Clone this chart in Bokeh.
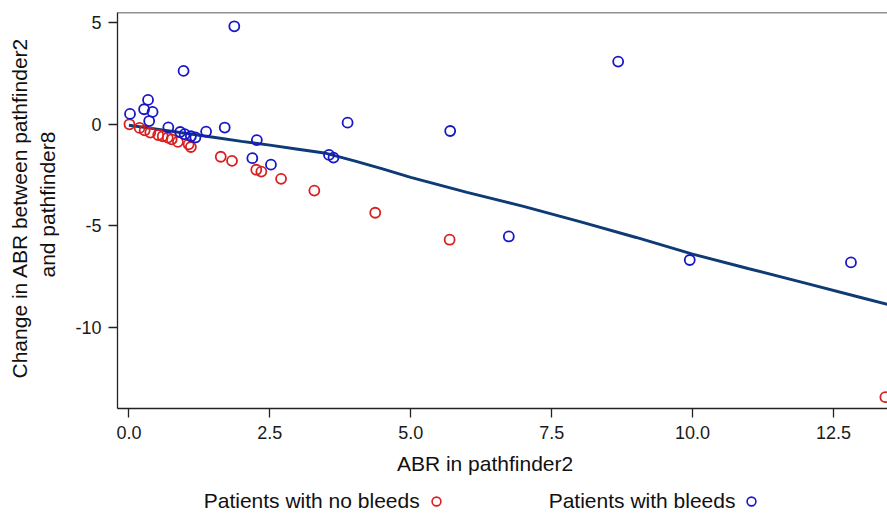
from bokeh.plotting import figure
from bokeh.layouts import column
from bokeh.models import (Legend, LegendItem, Span, FixedTicker, Title,
                          NumeralTickFormatter, Range1d)
from bokeh.embed import file_html
from bokeh.resources import INLINE

# ---- data ----
nobleed_x = [0.01, 0.19, 0.28, 0.38, 0.52, 0.60, 0.69, 0.76, 0.87, 1.06, 1.10,
             1.63, 1.83, 2.26, 2.35, 2.70, 3.29, 4.37, 5.69, 13.42]
nobleed_y = [0.00, -0.18, -0.30, -0.41, -0.53, -0.59, -0.66, -0.74, -0.87, -0.99, -1.12,
             -1.60, -1.80, -2.24, -2.33, -2.69, -3.27, -4.36, -5.69, -13.45]

bleed_x = [0.02, 0.34, 0.27, 0.42, 0.36, 0.97, 1.87, 0.70, 0.91, 0.99, 1.10, 1.18,
           1.37, 1.70, 2.27, 2.19, 2.52, 3.88, 3.55, 3.63, 5.70, 8.68, 6.74, 9.95, 12.81]
bleed_y = [0.51, 1.20, 0.74, 0.61, 0.16, 2.63, 4.83, -0.15, -0.38, -0.49, -0.59, -0.65,
           -0.36, -0.16, -0.78, -1.67, -1.99, 0.08, -1.51, -1.64, -0.33, 3.09, -5.53, -6.69, -6.81]

smooth_x = [0, 0.5, 1.0, 1.5, 2.0, 2.5, 3.0, 3.5, 4.0, 4.5, 5.0, 6.0, 7.0, 8.0, 9.0,
            10.0, 11.0, 12.0, 13.0, 13.46]
smooth_y = [-0.05, -0.24, -0.44, -0.64, -0.84, -1.03, -1.23, -1.43, -1.80, -2.20, -2.62,
            -3.36, -4.05, -4.80, -5.58, -6.40, -7.12, -7.83, -8.55, -8.88]

x_ticks = [0, 2.5, 5, 7.5, 10, 12.5]
y_ticks = [5, 0, -5, -10]

x_label = "ABR in pathfinder2"
y_label_1 = "Change in ABR between pathfinder2"
y_label_2 = "and pathfinder8"
legend_nobleed = "Patients with no bleeds"
legend_bleed = "Patients with bleeds"

RED = "#D92020"
BLUE = "#1717C8"
LINE = "#0E3A75"
FONT = "Liberation Sans"
TXT = "#111111"
NAN = float("nan")

X_START, X_END = -0.202, 13.458
Y_START, Y_END = -14.01, 5.51

p = figure(width=887, height=486, x_range=Range1d(X_START, X_END),
           y_range=Range1d(Y_START, Y_END), output_backend="svg",
           toolbar_location=None, min_border_left=117, min_border_right=0,
           min_border_top=12, min_border_bottom=78)
p.grid.visible = False
p.outline_line_color = None
p.background_fill_color = "white"
p.border_fill_color = "white"

for ax in (p.xaxis[0], p.yaxis[0]):
    ax.axis_line_color = "#222222"
    ax.axis_line_width = 1.3
    ax.major_tick_line_color = "#222222"
    ax.major_tick_line_width = 1.3
    ax.major_tick_out = 9
    ax.major_tick_in = 0
    ax.minor_tick_line_color = None
    ax.major_label_text_font = FONT
    ax.major_label_text_font_size = "18px"
    ax.major_label_text_color = "#1a1a1a"

p.xaxis.ticker = FixedTicker(ticks=x_ticks)
p.xaxis.formatter = NumeralTickFormatter(format="0.0")
p.xaxis.major_label_standoff = 8
p.yaxis.ticker = FixedTicker(ticks=y_ticks)
p.yaxis.formatter = NumeralTickFormatter(format="0")
p.yaxis.major_label_standoff = 7

p.add_layout(Span(location=Y_END, dimension="width", line_color="#222222", line_width=1.3))

p.line(smooth_x, smooth_y, line_color=LINE, line_width=2.9)
p.scatter(nobleed_x, nobleed_y, marker="circle", size=10, fill_color=None,
          line_color=RED, line_width=1.8)
p.scatter(bleed_x, bleed_y, marker="circle", size=10, fill_color=None,
          line_color=BLUE, line_width=1.8)

tcommon = dict(text_font=FONT, text_font_size="21px", text_font_style="normal",
               text_color=TXT, align="left")

# spacer between the y axis and its two-line title
p.add_layout(Title(text=" ", text_font_size="1px", standoff=10), "left")
# y-axis title (two lines), innermost first
p.add_layout(Title(text=y_label_2, offset=131, standoff=2, **tcommon), "left")
p.add_layout(Title(text=y_label_1, offset=30, standoff=4, **tcommon), "left")
# x-axis title
p.add_layout(Title(text=x_label, offset=279.4, standoff=16, **tcommon), "below")

# ---- legend strip ----
lg = figure(width=887, height=27, x_range=Range1d(0, 1), y_range=Range1d(0, 1),
            output_backend="svg", toolbar_location=None, x_axis_type=None,
            y_axis_type=None, min_border=0)
lg.grid.visible = False
lg.outline_line_color = None
lg.border_fill_color = "white"
k_none = lg.scatter(x=[NAN], y=[NAN], marker="circle", size=10, fill_color=None,
                    line_color=None)
k_red = lg.scatter(x=[NAN], y=[NAN], marker="circle", size=10, fill_color=None,
                   line_color=RED, line_width=1.6)
k_blue = lg.scatter(x=[NAN], y=[NAN], marker="circle", size=10, fill_color=None,
                    line_color=BLUE, line_width=1.6)
legend = Legend(items=[LegendItem(label=legend_nobleed, renderers=[k_none]),
                       LegendItem(label=legend_bleed, renderers=[k_red]),
                       LegendItem(label=" ", renderers=[k_blue])],
                orientation="horizontal", location=(-37.3, 0),
                padding=0, margin=0, border_line_color=None,
                background_fill_alpha=0, glyph_width=22, glyph_height=22,
                label_height=20, label_standoff=102, spacing=5,
                label_text_font=FONT, label_text_font_size="21px",
                label_text_color=TXT)
lg.add_layout(legend)

page = column(p, lg, spacing=0)
open("out.html", "w").write(file_html(page, INLINE))
